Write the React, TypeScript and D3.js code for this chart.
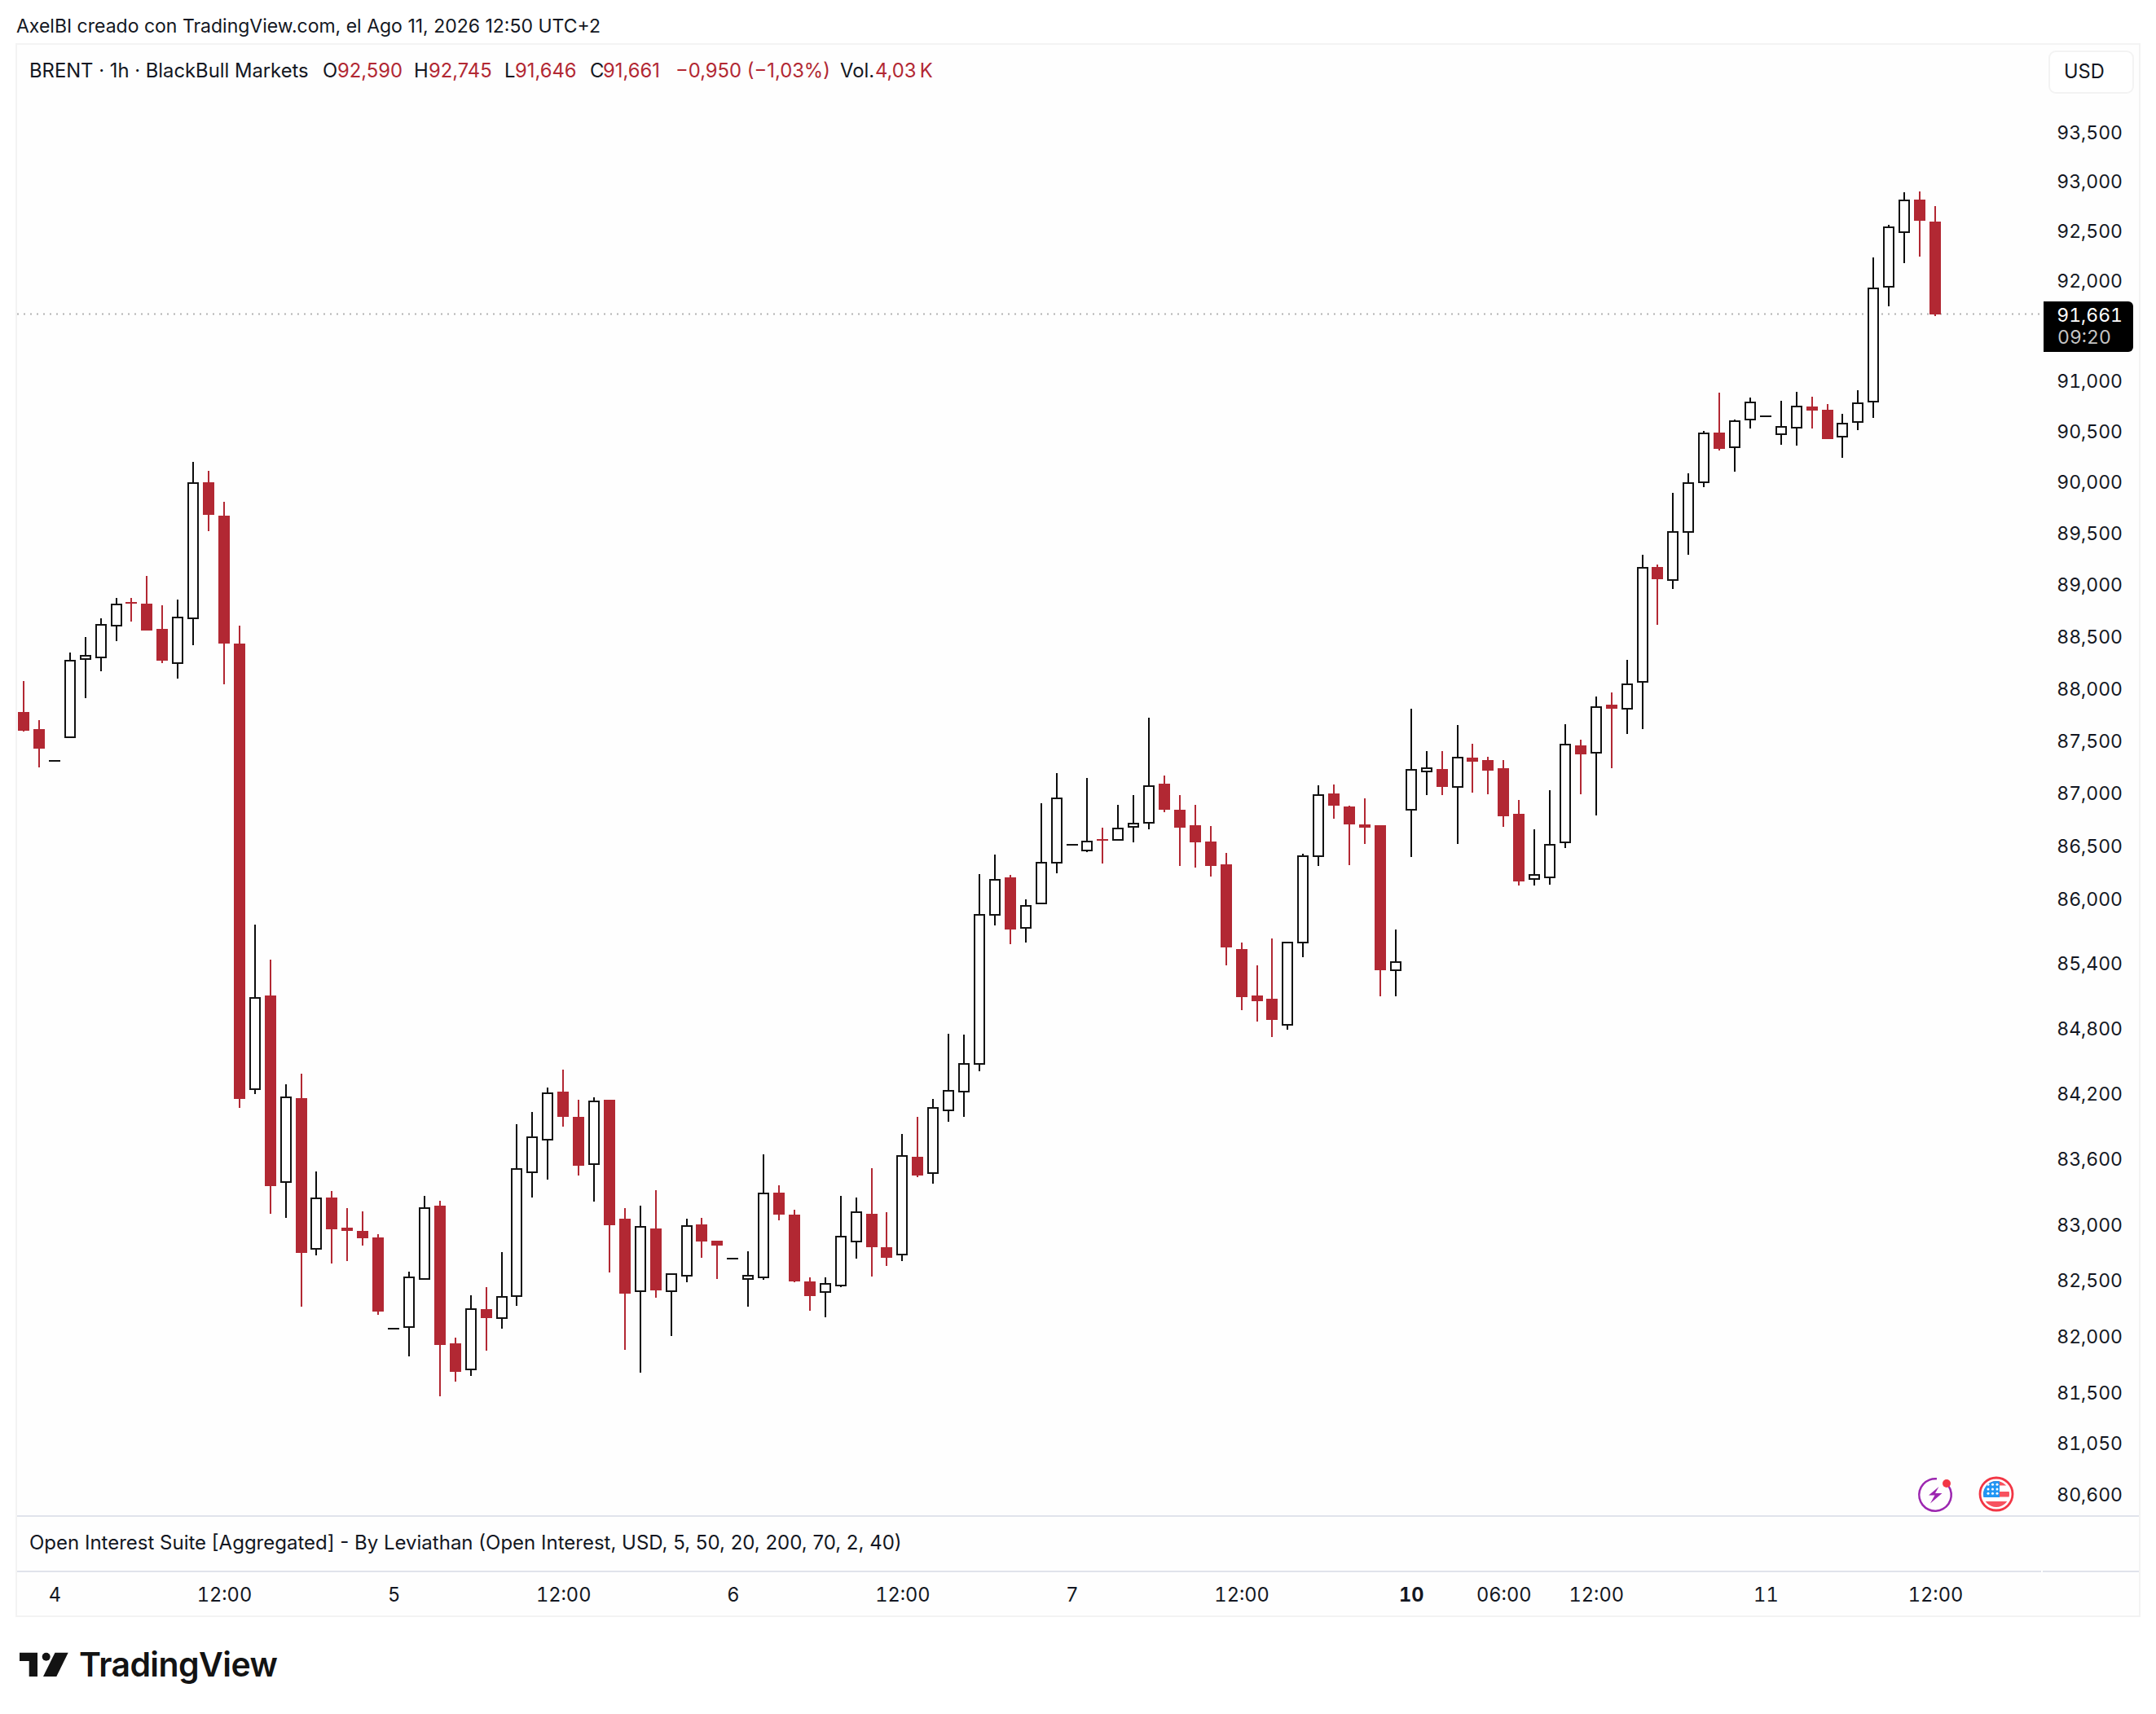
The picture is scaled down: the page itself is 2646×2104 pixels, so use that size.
import { useEffect, useRef } from "react";
import * as d3 from "d3";

const opens = [
	87.774,87.610,87.307,87.529,88.279,88.296,88.602,88.832,88.814,88.571,
	88.240,88.675,89.998,89.672,88.430,84.237,85.103,83.388,84.156,82.781,
	83.247,82.975,82.947,82.885,82.065,82.078,82.512,83.174,81.936,81.701,
	82.242,82.160,82.357,83.477,83.774,84.215,83.984,83.548,84.141,83.058,
	82.402,82.968,82.402,82.539,83.005,82.858,82.696,82.510,82.525,83.293,
	83.094,82.491,82.393,82.452,82.848,83.101,82.798,82.730,83.619,83.468,
	84.042,84.213,84.470,85.851,86.205,85.729,85.960,86.343,86.511,86.455,
	86.565,86.555,86.678,86.717,87.090,86.843,86.696,86.542,86.327,85.534,
	85.102,85.072,84.831,85.595,86.402,86.997,86.873,86.704,86.696,85.335,
	86.840,87.208,87.229,87.057,87.337,87.314,87.237,86.804,86.190,86.203,
	86.532,87.454,87.382,87.844,87.802,88.062,89.171,89.044,89.512,89.996,
	90.486,90.339,90.613,90.649,90.468,90.532,90.745,90.711,90.443,90.591,
	90.792,91.934,92.483,92.812,92.590,
];

const highs = [
	88.069,87.696,87.307,88.343,88.492,88.675,88.871,88.871,89.083,88.800,
	88.854,90.198,90.111,89.806,88.604,85.763,85.436,84.283,84.379,83.486,
	83.309,83.152,83.122,82.916,82.065,82.578,83.262,83.219,81.987,82.366,
	82.439,82.754,83.918,84.030,84.252,84.417,84.141,84.162,84.141,83.152,
	83.174,83.315,82.554,83.058,83.063,82.858,82.696,82.761,83.642,83.360,
	83.138,82.527,82.527,83.264,83.249,83.515,83.116,83.828,83.984,84.148,
	84.748,84.741,86.236,86.419,86.228,85.999,86.905,87.190,86.511,87.144,
	86.673,86.889,86.982,87.719,87.167,86.982,86.889,86.688,86.435,85.595,
	85.382,85.633,85.597,86.427,87.074,87.082,86.881,86.951,86.696,85.716,
	87.805,87.399,87.399,87.649,87.470,87.345,87.314,86.935,86.658,87.028,
	87.657,87.509,87.921,87.960,88.273,89.290,89.196,89.896,90.085,90.502,
	90.882,90.615,90.832,90.649,90.801,90.891,90.841,90.767,90.671,90.906,
	92.231,92.555,92.888,92.897,92.745,
];

const lows = [
	87.587,87.243,87.307,87.529,87.905,88.164,88.453,88.643,88.557,88.243,
	88.094,88.414,89.519,88.038,84.066,84.193,83.100,83.066,82.263,82.724,
	82.651,82.672,82.812,82.190,82.065,81.816,82.512,81.464,81.593,81.641,
	81.870,82.068,82.272,83.247,83.413,83.893,83.449,83.211,82.572,81.876,
	81.674,82.344,81.999,82.484,82.703,82.512,82.696,82.264,82.505,83.042,
	82.483,82.227,82.168,82.439,82.695,82.534,82.630,82.674,83.433,83.375,
	83.940,83.984,84.405,85.754,85.580,85.595,85.960,86.246,86.511,86.445,
	86.335,86.555,86.534,86.658,86.820,86.312,86.297,86.213,85.382,84.966,
	84.861,84.718,84.786,85.458,86.312,86.758,86.320,86.519,85.094,85.094,
	86.396,86.982,86.982,86.519,87.005,86.990,86.681,86.129,86.129,86.136,
	86.480,86.990,86.789,87.237,87.563,87.610,88.609,88.956,89.290,89.951,
	90.309,90.103,90.527,90.649,90.366,90.357,90.527,90.421,90.238,90.510,
	90.631,91.741,92.175,92.237,91.646,
];

const closes = [
	87.593,87.424,87.307,88.268,88.310,88.607,88.809,88.814,88.557,88.265,
	88.680,89.986,89.678,88.430,84.147,85.075,83.352,84.159,82.745,83.238,
	82.959,82.947,82.879,82.220,82.065,82.523,83.155,81.921,81.680,82.238,
	82.160,82.348,83.505,83.795,84.197,83.984,83.539,84.122,82.996,82.381,
	82.981,82.409,82.554,82.987,82.849,82.812,82.696,82.540,83.288,83.094,
	82.491,82.359,82.471,82.892,83.111,82.798,82.703,83.622,83.448,84.064,
	84.225,84.465,85.855,86.184,85.716,85.940,86.345,86.953,86.511,86.544,
	86.549,86.668,86.714,87.069,86.843,86.673,86.534,86.312,85.549,85.087,
	85.049,84.876,85.597,86.406,86.984,86.881,86.704,86.673,85.337,85.415,
	87.223,87.234,87.059,87.339,87.298,87.213,86.781,86.167,86.230,86.513,
	87.464,87.368,87.822,87.805,88.041,89.166,89.053,89.515,89.987,90.480,
	90.327,90.600,90.786,90.649,90.544,90.745,90.705,90.421,90.576,90.779,
	91.922,92.530,92.806,92.600,91.661,
];

const priceTicks = [
	93.5, 93, 92.5, 92, 91, 90.5, 90, 89.5, 89, 88.5, 88, 87.5, 87, 86.5, 86,
	85.4, 84.8, 84.2, 83.6, 83, 82.5, 82, 81.5, 81.05, 80.6,
];
const timeTickIndex = [2, 13, 24, 35, 46, 57, 68, 79, 90, 96, 102, 113, 124];
const timeTickLabels = ["4", "12:00", "5", "12:00", "6", "12:00", "7", "12:00", "10", "06:00", "12:00", "11", "12:00"];

const lastPrice = 91.661;
const countdown = "09:20";
const titleText = "AxelBI creado con TradingView.com, el Ago 11, 2026 12:50 UTC+2";
const indicatorText = "Open Interest Suite [Aggregated] - By Leviathan (Open Interest, USD, 5, 50, 20, 200, 70, 2, 40)";

const WIDTH = 2646;
const HEIGHT = 2104;
const RED = "#b22833";
const BLACK = "#131313";
const INK = "#131722";
const FONT = "Inter, sans-serif";

const locale = d3.formatLocale({ decimal: ",", thousands: ".", grouping: [3], currency: ["$", ""] });
const priceFormat = locale.format(".3f");

export default function App() {
	const svgRef = useRef<SVGSVGElement>(null);

	useEffect(() => {
		if (!svgRef.current) return;
		const svg = d3.select(svgRef.current);
		svg.selectAll("*").remove();

		const x = d3.scaleLinear().domain([0, opens.length - 1]).range([29, 2375]);
		const y = d3.scaleLog().domain([80.6, 93.5]).range([1834, 162]);

		svg.append("rect").attr("width", WIDTH).attr("height", HEIGHT).attr("fill", "#ffffff");

		// frame
		svg.append("rect")
			.attr("x", 20).attr("y", 54).attr("width", 2606).attr("height", 1930)
			.attr("fill", "#fefefe").attr("stroke", "#f3f3f3").attr("stroke-width", 2);
		svg.append("rect").attr("x", 21).attr("y", 1860).attr("width", 2604).attr("height", 2).attr("fill", "#e0e3eb");
		svg.append("rect").attr("x", 21).attr("y", 1928).attr("width", 2604).attr("height", 2).attr("fill", "#e0e3eb");
		svg.append("rect").attr("x", 2505).attr("y", 1928).attr("width", 2).attr("height", 2).attr("fill", "#ffffff");

		// last price line
		svg.append("line")
			.attr("x1", 21).attr("x2", 2504)
			.attr("y1", Math.round(y(lastPrice)) - 0.5).attr("y2", Math.round(y(lastPrice)) - 0.5)
			.attr("stroke", "#b2b2b2").attr("stroke-width", 2).attr("stroke-dasharray", "2 6");

		// candles
		const candles = svg.append("g").attr("shape-rendering", "crispEdges");
		opens.forEach((open, i) => {
			const close = closes[i];
			const up = close >= open;
			const color = up ? BLACK : RED;
			const cx = Math.round(x(i));
			const top = y(Math.max(open, close));
			const bottom = y(Math.min(open, close));
			if (highs[i] > lows[i]) {
				candles.append("rect")
					.attr("x", cx - 1).attr("width", 2)
					.attr("y", y(highs[i])).attr("height", y(lows[i]) - y(highs[i]))
					.attr("fill", up ? "#0c0c0c" : RED);
			}
			if (bottom - top < 2) {
				candles.append("rect")
					.attr("x", cx - 7).attr("width", 14)
					.attr("y", top - 1).attr("height", 2)
					.attr("fill", color);
			} else if (up) {
				candles.append("rect")
					.attr("x", cx - 6).attr("width", 12)
					.attr("y", top).attr("height", bottom - top)
					.attr("fill", "#ffffff").attr("stroke", color).attr("stroke-width", 2);
			} else {
				candles.append("rect")
					.attr("x", cx - 7).attr("width", 14)
					.attr("y", top).attr("height", bottom - top)
					.attr("fill", color);
			}
		});

		// price axis
		svg.append("g")
			.call(d3.axisRight(y).tickValues(priceTicks).tickSize(0).tickFormat((d) => priceFormat(d as number)))
			.call((g) => g.select(".domain").remove())
			.call((g) =>
				g.selectAll(".tick text")
					.attr("x", 2605).attr("dy", "0.36em")
					.attr("text-anchor", "end")
					.attr("fill", INK)
					.attr("font-size", 23)
					.attr("font-family", FONT)
					.style("font-variant-numeric", "tabular-nums")
			);

		// time axis
		svg.append("g")
			.attr("transform", "translate(0,1950)")
			.call(
				d3.axisBottom(x).tickValues(timeTickIndex).tickSize(0)
					.tickFormat((_, i) => timeTickLabels[i])
			)
			.call((g) => g.select(".domain").remove())
			.call((g) =>
				g.selectAll<SVGTextElement, number>(".tick text")
					.attr("y", 16).attr("dy", 0)
					.attr("fill", INK)
					.attr("font-size", 23.6)
					.attr("font-family", FONT)
					.attr("font-weight", (d) => (d === 90 ? 700 : 400))
					.style("font-variant-numeric", "tabular-nums")
			);

		const label = (
			text: string,
			tx: number,
			ty: number,
			fill = INK,
			size = 23.8,
			anchor = "start"
		) =>
			svg.append("text")
				.attr("x", tx).attr("y", ty)
				.attr("fill", fill)
				.attr("font-size", size)
				.attr("font-family", FONT)
				.attr("text-anchor", anchor)
				.text(text);

		label(titleText, 20, 40, INK, 23);
		label("BRENT · 1h · BlackBull Markets", 36, 95);
		label("O", 396, 95);
		label("92,590", 414, 95, RED);
		label("H", 508, 95);
		label("92,745", 526, 95, RED);
		label("L", 619, 95);
		label("91,646", 632, 95, RED);
		label("C", 724, 95);
		label("91,661", 740, 95, RED);
		label("−0,950 (−1,03%)", 829, 95, RED);
		label("Vol.", 1031, 95);
		label("4,03\u2009K", 1074, 95, RED);
		label(indicatorText, 36, 1902, INK, 24);

		// USD button
		svg.append("rect")
			.attr("x", 2515).attr("y", 63).attr("width", 103).attr("height", 51).attr("rx", 8)
			.attr("fill", "#ffffff").attr("stroke", "#f3f3f3").attr("stroke-width", 2);
		label("USD", 2533, 96, INK, 23.6);

		// last price tag
		svg.append("path")
			.attr("d", "M2508,370H2612a6,6 0 0 1 6,6V426a6,6 0 0 1 -6,6H2508Z")
			.attr("fill", "#000000");
		label(priceFormat(lastPrice), 2605, 395, "#ffffff", 23, "end").style("font-variant-numeric", "tabular-nums");
		label(countdown, 2525, 422, "#c4c4c4", 23).style("font-variant-numeric", "tabular-nums");

		// event icons
		const bolt = svg.append("g").attr("transform", "translate(2340,1800)");
		bolt.append("path")
			.attr("d", d3.arc()({ innerRadius: 18.5, outerRadius: 21, startAngle: 0.75, endAngle: 2 * Math.PI + 0.1 }) as string)
			.attr("transform", "translate(35,35)")
			.attr("fill", "#9c27b0");
		bolt.append("circle").attr("cx", 49).attr("cy", 21).attr("r", 5).attr("fill", "#f23645");
		bolt.append("path")
			.attr("d", "M39.5,25L27,35.5H34.5L29,45.5L43.5,33H35Z")
			.attr("fill", "#9c27b0");

		const flagId = "flag-clip";
		const flag = svg.append("g").attr("transform", "translate(2450,1834)");
		flag.append("clipPath").attr("id", flagId).append("circle").attr("r", 16);
		flag.append("circle").attr("r", 20).attr("fill", "#ffffff").attr("stroke", "#f23645").attr("stroke-width", 2.8);
		const flagBody = flag.append("g").attr("clip-path", `url(#${flagId})`);
		flagBody.append("rect").attr("x", -16).attr("y", -16).attr("width", 32).attr("height", 32).attr("fill", "#ffffff");
		flagBody.append("rect").attr("x", -16).attr("y", -16).attr("width", 32).attr("height", 5.5).attr("fill", "#f7525f");
		flagBody.append("rect").attr("x", -16).attr("y", -3).attr("width", 32).attr("height", 6.5).attr("fill", "#f7525f");
		flagBody.append("rect").attr("x", -16).attr("y", 9).attr("width", 32).attr("height", 8).attr("fill", "#f7525f");
		flagBody.append("rect").attr("x", -16).attr("y", -16).attr("width", 20).attr("height", 20).attr("fill", "#2196f3");
		[-11.7, -6, -0.7].forEach((sy) => {
			[-10, -4.5, 1].forEach((sx) => {
				flagBody.append("circle").attr("cx", sx).attr("cy", sy).attr("r", 1.5).attr("fill", "#ffffff");
			});
		});

		// logo
		const logo = svg.append("g").attr("transform", "translate(15,2015)").attr("fill", "#131313");
		logo.append("path").attr("d", "M9,13.7H31V43H20.7V24H9Z");
		logo.append("circle").attr("cx", 41.7).attr("cy", 18.7).attr("r", 5);
		logo.append("path").attr("d", "M52.5,13.7H68.7L54.3,43H38Z");
		label("TradingView", 97, 2058, "#131313", 41).attr("font-weight", 600).attr("letter-spacing", "-0.6px");
	}, []);

	return (
		<svg
			ref={svgRef}
			width={WIDTH}
			height={HEIGHT}
			style={{ position: "absolute", left: 0, top: 0, display: "block" }}
		/>
	);
}
